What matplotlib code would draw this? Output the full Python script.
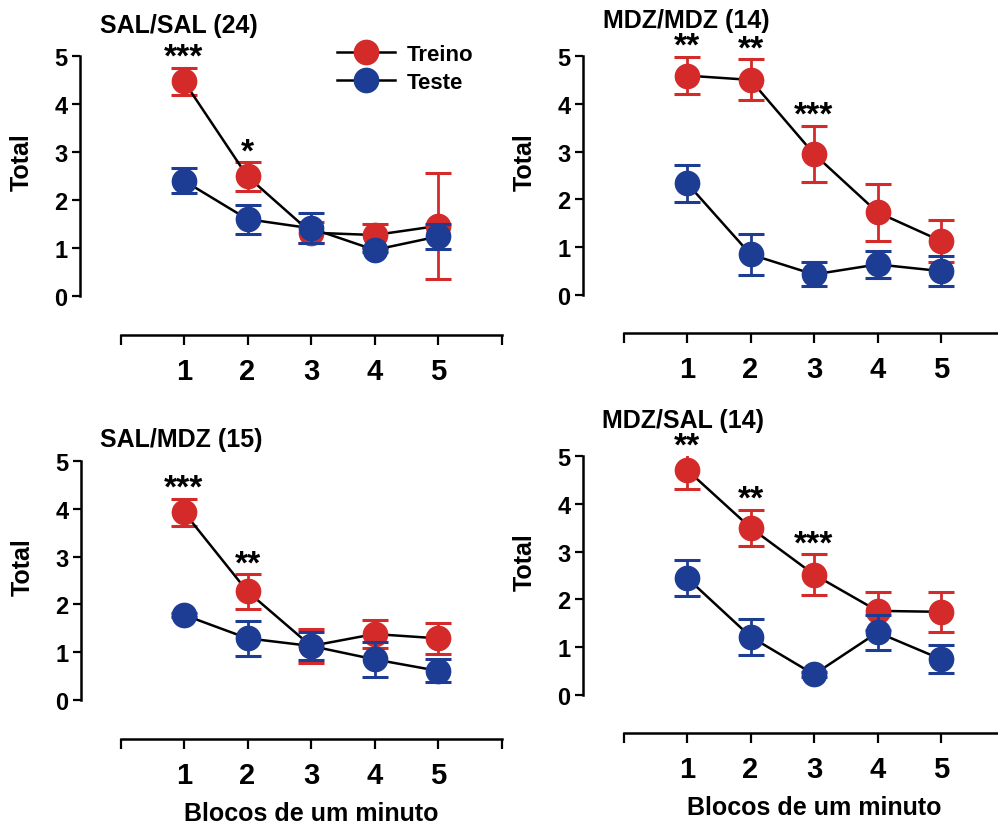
import matplotlib
matplotlib.use("Agg")
import matplotlib.pyplot as plt
from matplotlib.transforms import Bbox, TransformedBbox

plt.rcParams['font.family'] = ['Liberation Sans', 'DejaVu Sans']
plt.rcParams['font.weight'] = 'bold'

W, H = 998, 828

# ---------------- data ----------------
blocks = [1, 2, 3, 4, 5]
x_tick_labels = ['', '1', '2', '3', '4', '5', '']
y_ticks = [0, 1, 2, 3, 4, 5]
series_names = ['Treino', 'Teste']

titles = ['SAL/SAL (24)', 'MDZ/MDZ (14)', 'SAL/MDZ (15)', 'MDZ/SAL (14)']

treino_mean = [
    [4.47, 2.49, 1.32, 1.27, 1.46],
    [4.59, 4.50, 2.95, 1.73, 1.13],
    [3.93, 2.27, 1.13, 1.38, 1.29],
    [4.71, 3.50, 2.52, 1.76, 1.74],
]
treino_sem = [
    [0.29, 0.30, 0.22, 0.24, 1.10],
    [0.39, 0.43, 0.59, 0.60, 0.43],
    [0.28, 0.36, 0.35, 0.30, 0.33],
    [0.40, 0.38, 0.42, 0.40, 0.42],
]
teste_mean = [
    [2.40, 1.60, 1.41, 0.96, 1.24],
    [2.34, 0.85, 0.43, 0.64, 0.50],
    [1.78, 1.29, 1.13, 0.85, 0.61],
    [2.45, 1.22, 0.43, 1.31, 0.75],
]
teste_sem = [
    [0.26, 0.30, 0.31, 0.05, 0.27],
    [0.39, 0.43, 0.25, 0.28, 0.31],
    [0.05, 0.36, 0.30, 0.36, 0.24],
    [0.37, 0.38, 0.05, 0.37, 0.29],
]
stars = [
    ['***', '*', '', '', ''],
    ['**', '**', '***', '', ''],
    ['***', '**', '', '', ''],
    ['**', '**', '***', '', ''],
]
ylabel = 'Total'
xlabel = 'Blocos de um minuto'

# ---------------- layout (pixels) ----------------
# spine_x, tick1_x, y0_px, y5_px, xaxis_px, title_x, title_baseline
layout = [
    (80, 184, 297, 57, 336, 100, 33),
    (583, 687, 296, 57, 334, 603, 28),
    (81, 184, 701, 462, 740, 100, 447),
    (583, 687, 696, 457, 734, 602, 428),
]
spacing = 63.5
ytop = 5.4

RED = '#d42a2a'
BLUE = '#1d3c94'
MS = 17.5

fig = plt.figure(figsize=(W / 100, H / 100), dpi=100)

for i in range(4):
    sx, t1, y0, y5, xa, tx, tb = layout[i]
    pu = (y0 - y5) / 5.0
    xmin = 1 - (t1 - sx) / spacing
    xmax = 6.0
    ymin = -(xa - y0) / pu
    right_px = t1 + 5 * spacing
    top_px = y5 - (ytop - 5) * pu
    ax = fig.add_axes([sx / W, 1 - xa / H, (right_px - sx) / W, (xa - top_px) / H])
    ax.set_xlim(xmin, xmax)
    ax.set_ylim(ymin, ytop)
    w_px = right_px - sx
    h_px = xa - top_px

    clip = TransformedBbox(Bbox.from_extents(xmin, ymin, xmax, 5.0), ax.transData)

    for k, (means, sems, col) in enumerate([(treino_mean[i], treino_sem[i], RED),
                                            (teste_mean[i], teste_sem[i], BLUE)]):
        base = 2 + 3 * k
        cont = ax.errorbar(blocks, means, yerr=sems, fmt='none', ecolor=col,
                           elinewidth=2.0, capsize=9.5, capthick=2.2, zorder=base)
        for art in list(cont.lines[1]) + list(cont.lines[2]):
            art.set_clip_box(clip)
        ax.plot(blocks, means, color='black', lw=1.8, zorder=base + 1)
        ax.plot(blocks, means, marker='o', markersize=MS, linestyle='None',
                markerfacecolor=col, markeredgecolor=col, zorder=base + 2)
        if i == 0:
            ax.plot([], [], color='black', lw=1.8, marker='o', markersize=MS,
                    markerfacecolor=col, markeredgecolor=col, label=series_names[k])

    # significance stars
    for j, s in enumerate(stars[i]):
        if s:
            top = min(treino_mean[i][j] + treino_sem[i][j], 5.0)
            ax.text(blocks[j], top + 0.04, s, ha='center', va='baseline',
                    fontsize=24, fontweight='bold', zorder=10)

    # spines
    for side in ['top', 'right']:
        ax.spines[side].set_visible(False)
    ax.spines['left'].set_bounds(0, 5)
    ax.spines['bottom'].set_bounds(0, 6)
    ax.spines['left'].set_linewidth(1.8)
    ax.spines['bottom'].set_linewidth(1.8)

    ax.set_yticks(y_ticks)
    ax.set_yticklabels([str(v) for v in y_ticks])
    ax.set_xticks(range(0, 7))
    ax.set_xticklabels(x_tick_labels)
    ax.tick_params(axis='y', direction='out', length=6, width=1.6, pad=3, labelsize=17)
    ax.tick_params(axis='x', direction='out', length=7, width=1.6, pad=8.5, labelsize=21)
    for lab in ax.get_yticklabels() + ax.get_xticklabels():
        lab.set_fontweight('bold')

    ax.set_ylabel(ylabel, fontsize=18, fontweight='bold')
    ax.yaxis.set_label_coords(-46 / w_px, (2.8 - ymin) / (ytop - ymin))

    ax.set_title(titles[i], loc='left', fontsize=18, fontweight='bold',
                 x=(tx - sx) / w_px, y=1 + (top_px - tb) / h_px, pad=0)

    if i >= 2:
        ax.set_xlabel(xlabel, fontsize=18, fontweight='bold')
        ax.xaxis.set_label_coords((3 - xmin) / (xmax - xmin), -81 / h_px)
        ax.xaxis.label.set_verticalalignment('baseline')

    if i == 0:
        ax.legend(loc='upper left', bbox_to_anchor=(337 / W, 1 - 45 / H),
                  bbox_transform=fig.transFigure, frameon=False,
                  handlelength=2.6, handletextpad=0.55, labelspacing=0.3,
                  borderpad=0, borderaxespad=0, prop={'weight': 'bold', 'size': 16})

fig.savefig('out.png', dpi=100)
